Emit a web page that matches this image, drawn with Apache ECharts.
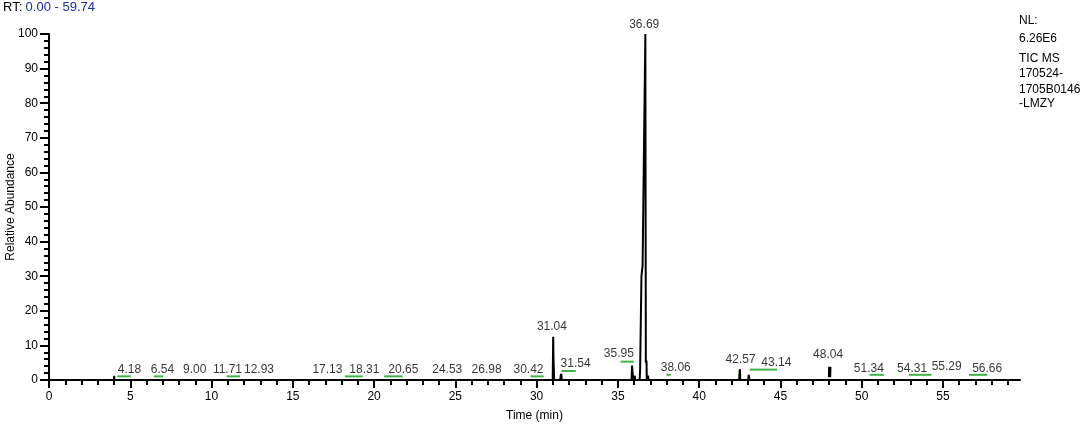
<!DOCTYPE html>
<html><head><meta charset="utf-8">
<script src="https://cdn.jsdelivr.net/npm/echarts@6/dist/echarts.min.js"></script>
<style>html,body{margin:0;padding:0;background:#fff}#c{width:1084px;height:426px}</style>
</head><body><div id="c"></div>
<script>
// ---- data ----
const xTickLabels = [0, 5, 10, 15, 20, 25, 30, 35, 40, 45, 50, 55];
const xMinorTicks = [1,2,3,4,6,7,8,9,11,12,13,14,16,17,18,19,21,22,23,24,26,27,28,29,31,32,33,34,36,37,38,39,41,42,43,44,46,47,48,49,51,52,53,54,56,57,58,59];
const yTickLabels = [0, 10, 20, 30, 40, 50, 60, 70, 80, 90, 100];
const rtRange = [0.00, 59.74];

// chromatogram (null = gap in trace)
const chromRT = [0, 3.99, 4.0, 4.01, 4.03,
  30.99, 31.02, 31.04, 31.08,
  31.45, 31.48, 31.52, 31.55,
  35.84, 35.87, 35.9, 35.94, 36.02, 36.04, 36.06,
  36.34, 36.37, 36.43, 36.45, 36.52, 36.69, 36.72, 36.76, 36.78, 36.84, 36.86, 36.88,
  42.46, 42.49, 42.51, 42.53,
  43.02, 43.05, 43.08, 43.1, 47.96,
  null,
  47.98, 48.0, 48.02, 48.04, 48.06, 48.08,
  null,
  48.1, 59.74];
const chromAbund = [0, 0, 0.5, 1.2, 0,
  0, 12.5, 6, 0,
  0, 1.2, 1.8, 0,
  0, 4.2, 4.5, 0, 0, 1.2, 0,
  0, 3.5, 3.8, 30, 33, 100, 5, 5.6, 0, 0, 1.3, 0,
  0, 2.5, 3.1, 0,
  0, 1.5, 2.0, 0, 0,
  null,
  0.8, 3.8, 0.8, 3.8, 0.8, 3.8,
  null,
  0, 0];

// peak annotations
const peakLabels = ['4.18','6.54','9.00','11.71','12.93','17.13','18.31','20.65','24.53','26.98','30.42','31.04','31.54','35.95','36.69','38.06','42.57','43.14','48.04','51.34','54.31','55.29','56.66'];
const labelRT =    [4.95, 6.98, 8.96, 10.98, 12.92, 17.13, 19.4, 21.8, 24.5, 26.92, 29.5, 30.94, 32.4, 35.06, 36.62, 38.56, 42.55, 44.75, 47.93, 50.44, 53.1, 55.23, 57.72];
const labelAbund = [2.9, 2.9, 2.9, 2.9, 2.9, 2.9, 2.9, 2.9, 2.9, 2.9, 2.9, 15.3, 4.6, 7.5, 102.6, 3.5, 5.8, 5.0, 7.2, 3.4, 3.4, 3.9, 3.4];

// green baseline marks
const greenStart = [4.2, 6.46, 10.93, 18.2, 20.62, 29.62, 31.53, 35.16, 37.99, 43.11, 50.49, 52.91, 56.6];
const greenEnd   = [5.02, 7.03, 11.75, 19.3, 21.75, 30.44, 32.41, 35.98, 38.25, 44.79, 51.37, 54.29, 57.73];
const greenLevel = [1.05, 1.05, 1.05, 1.05, 1.05, 1.05, 2.6, 5.3, 1.5, 3.0, 1.5, 1.5, 1.5];

const infoLines = ['NL:', '6.26E6', 'TIC MS', '170524-', '1705B0146', '-LMZY'];

// ---- build ----
const FONT = "'Liberation Sans', Arial, sans-serif";
function segments(xs, ys) {
  const out = []; let cur = [];
  for (let i = 0; i < xs.length; i++) {
    if (xs[i] === null || ys[i] === null) { if (cur.length) out.push(cur); cur = []; }
    else cur.push([xs[i], ys[i]]);
  }
  if (cur.length) out.push(cur);
  return out;
}
const series = [];
segments(chromRT, chromAbund).forEach(seg => series.push({
  type: 'line', data: seg, symbol: 'none', silent: true, clip: false,
  lineStyle: { color: '#000', width: 2 }, z: 3
}));
greenStart.forEach((s, i) => series.push({
  type: 'line', data: [[s, greenLevel[i]], [greenEnd[i], greenLevel[i]]], symbol: 'none', silent: true,
  lineStyle: { color: '#3db34a', width: 2 }, z: 2
}));
series.push({
  type: 'scatter', clip: false, silent: true, symbolSize: 0.1,
  itemStyle: { color: 'rgba(0,0,0,0)' },
  data: peakLabels.map((t, i) => ({ value: [labelRT[i], labelAbund[i]], name: t })),
  label: { show: true, position: 'inside', formatter: p => p.name, color: '#000', fontSize: 12, fontFamily: FONT },
  z: 4
});

const infoY = [21, 39, 59, 74, 89.5, 104];
const graphic = [{
  type: 'text', left: 3, top: 1,
  style: { text: '{k|RT:} {v|' + rtRange[0].toFixed(2) + ' - ' + rtRange[1].toFixed(2) + '}',
    rich: { k: { fill: '#000', fontSize: 13, fontFamily: FONT }, v: { fill: '#1c2aa6', fontSize: 13, fontFamily: FONT } } }
}].concat(infoLines.map((t, i) => ({
  type: 'text', x: 1019, y: infoY[i],
  style: { text: t, fill: '#000', fontSize: 12, fontFamily: FONT, verticalAlign: 'middle', align: 'left' }
})));

const axisBase = {
  type: 'value', min: rtRange[0], max: rtRange[1], position: 'bottom', gridIndex: 0
};
const chart = echarts.init(document.getElementById('c'), null, { renderer: 'canvas' });
chart.setOption({
  animation: false,
  backgroundColor: '#fff',
  grid: { left: 49, right: 64, top: 34, bottom: 46, containLabel: false, outerBoundsMode: 'none' },
  xAxis: [Object.assign({}, axisBase, {
    name: 'Time (min)', nameLocation: 'middle', nameGap: 30, nameMoveOverlap: false,
    nameTextStyle: { color: '#000', fontSize: 12, fontFamily: FONT },
    axisLine: { show: true, lineStyle: { color: '#000', width: 2 } },
    axisTick: { show: true, customValues: xTickLabels, length: 8, lineStyle: { color: '#000', width: 2 } },
    axisLabel: { show: true, customValues: xTickLabels, margin: 11, color: '#000', fontSize: 12, fontFamily: FONT },
    splitLine: { show: false }
  }), Object.assign({}, axisBase, {
    axisLine: { show: false },
    axisTick: { show: true, customValues: xMinorTicks, length: 5, lineStyle: { color: '#000', width: 2 } },
    axisLabel: { show: false },
    splitLine: { show: false }
  })],
  yAxis: {
    type: 'value', min: yTickLabels[0], max: yTickLabels[yTickLabels.length - 1], interval: 10,
    name: 'Relative Abundance', nameLocation: 'middle', nameGap: 32, nameMoveOverlap: false,
    nameTextStyle: { color: '#000', fontSize: 12, fontFamily: FONT },
    axisLine: { show: true, lineStyle: { color: '#000', width: 2 } },
    axisTick: { show: true, length: 9, lineStyle: { color: '#000', width: 2 } },
    minorTick: { show: true, splitNumber: 5, length: 5, lineStyle: { color: '#000', width: 2 } },
    axisLabel: { margin: 11, color: '#000', fontSize: 12, fontFamily: FONT },
    splitLine: { show: false }, minorSplitLine: { show: false }
  },
  graphic: graphic,
  series: series
});
</script></body></html>
